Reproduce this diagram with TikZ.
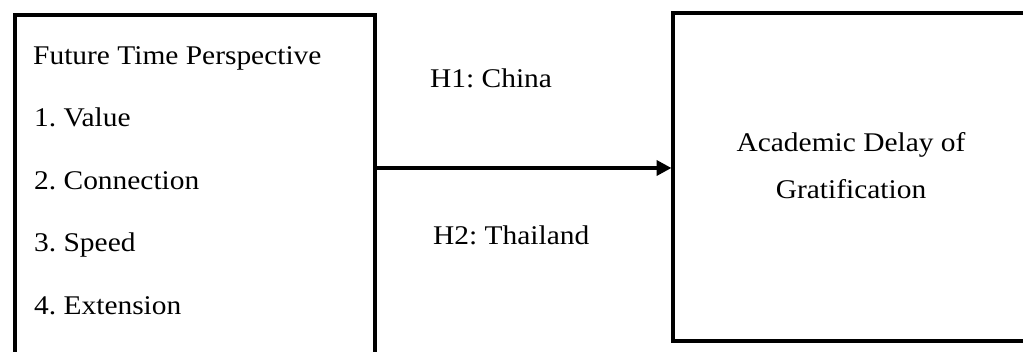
\documentclass[tikz,border=0pt]{standalone}
\usepackage{fontspec}
\setmainfont[FakeStretch=1.09]{Liberation Serif}
\usetikzlibrary{arrows.meta}
\begin{document}
\frenchspacing
\begin{tikzpicture}[x=1pt,y=-1pt,
  box/.style={draw=black,line width=4pt,inner sep=0pt,anchor=north west},
  lbl/.style={anchor=base west,inner sep=0pt,font=\fontsize{27}{31}\selectfont},
  clbl/.style={anchor=base,inner sep=0pt,font=\fontsize{27}{31}\selectfont},
  arr/.style={line width=4pt,-{Triangle[length=15pt,width=15pt]},shorten >=-1pt}]
\useasboundingbox (0,0) rectangle (1023,352);
\clip (0,0) rectangle (1023,352);
\node[box,minimum width=360.5pt,minimum height=360pt] (lbox) at (12.5,13) {};
\node[box,minimum width=370pt,minimum height=327.5pt] (rbox) at (670.5,11.5) {};
\node[lbl] (t0) at (33,65) {Future Time Perspective};
\node[lbl] (t1) at (34,127) {1. Value};
\node[lbl] (t2) at (34,190) {2. Connection};
\node[lbl] (t3) at (34,252) {3. Speed};
\node[lbl] (t4) at (34,315) {4. Extension};
\node[clbl] (r1) at (851,152) {Academic Delay of};
\node[clbl] (r2) at (851,199) {Gratification};
\node[lbl] (h1) at (430,88) {H1: China};
\node[lbl] (h2) at (433,245) {H2: Thailand};
\coordinate (a) at (0,168);
\draw[arr] (lbox.east |- a) -- (rbox.west |- a);
\end{tikzpicture}
\end{document}
